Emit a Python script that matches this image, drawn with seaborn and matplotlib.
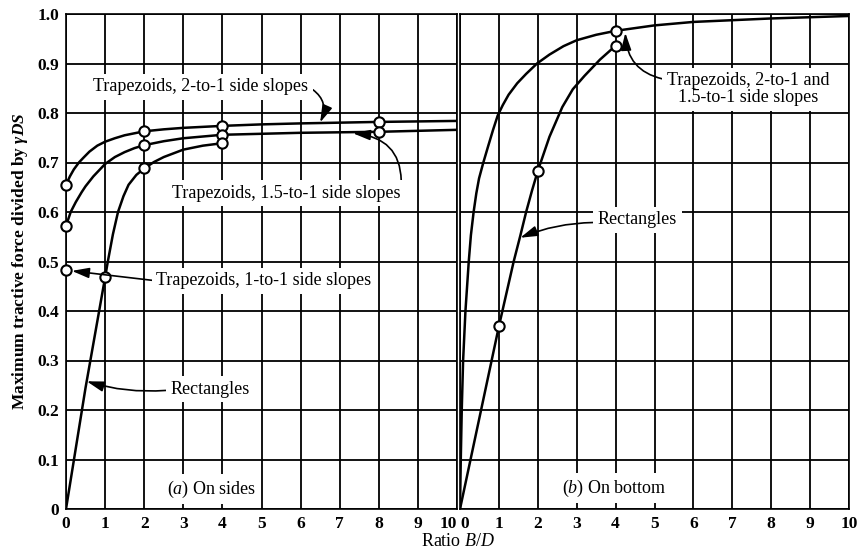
import matplotlib
matplotlib.use("Agg")
import matplotlib.pyplot as plt
import seaborn as sns

# ---- (a) On sides -------------------------------------------------------
sides_x_trap2 = [0, 0.1, 0.2, 0.33, 0.45, 0.6, 0.8, 1, 1.25, 1.5, 1.75, 2,
                 2.5, 3, 4, 5, 6, 8, 10]
sides_y_trap2 = [0.655, 0.672, 0.686, 0.700, 0.710, 0.722, 0.734, 0.742, 0.749,
                 0.755, 0.759, 0.763, 0.767, 0.770, 0.774, 0.777, 0.779, 0.782, 0.784]

sides_x_trap15 = [0, 0.12, 0.25, 0.4, 0.5, 0.7, 1, 1.25, 1.5, 1.75, 2, 2.5,
                  3, 4, 5, 6, 8, 10]
sides_y_trap15 = [0.572, 0.600, 0.620, 0.640, 0.652, 0.672, 0.697, 0.711, 0.721,
                  0.729, 0.735, 0.743, 0.749, 0.756, 0.758, 0.760, 0.762, 0.766]

sides_x_rect = [0, 0.5, 1, 1.07, 1.2, 1.33, 1.47, 1.6, 1.8, 2, 2.25, 2.5,
                3, 3.5, 4]
sides_y_rect = [0, 0.245, 0.468, 0.500, 0.555, 0.600, 0.632, 0.655, 0.675,
                0.688, 0.701, 0.711, 0.726, 0.734, 0.739]

sides_mark_x = [0, 2, 4, 8]
sides_mark_trap2 = [0.655, 0.763, 0.774, 0.782]
sides_mark_trap15 = [0.572, 0.735, 0.756, 0.762]
sides_mark_rect_x = [1, 2, 4]
sides_mark_rect_y = [0.468, 0.688, 0.739]
sides_mark_trap1_x = [0]
sides_mark_trap1_y = [0.482]

# ---- (b) On bottom ------------------------------------------------------
bottom_x_trap = [0, 0.01, 0.02, 0.045, 0.08, 0.14, 0.225, 0.28, 0.35, 0.42,
                 0.49, 0.6, 0.72, 0.85, 0.97, 1.1, 1.25, 1.47, 1.7, 1.98,
                 2.3, 2.66, 3, 3.5, 4, 5, 6, 8, 10]
bottom_y_trap = [0, 0.05, 0.1, 0.2, 0.3, 0.4, 0.5, 0.553, 0.6, 0.638,
                 0.668, 0.700, 0.732, 0.766, 0.795, 0.816, 0.837, 0.860, 0.879, 0.900,
                 0.918, 0.935, 0.947, 0.958, 0.966, 0.977, 0.984, 0.991, 0.996]

bottom_x_rect = [0, 1, 1.2, 1.38, 1.55, 1.7, 1.85, 2, 2.3, 2.63, 2.9, 3.2, 3.6, 4]
bottom_y_rect = [0, 0.369, 0.438, 0.500, 0.552, 0.600, 0.643, 0.683, 0.752,
                 0.812, 0.848, 0.875, 0.908, 0.936]

bottom_mark_trap_x = [4]
bottom_mark_trap_y = [0.966]
bottom_mark_rect_x = [1, 2, 4]
bottom_mark_rect_y = [0.369, 0.683, 0.936]

x_ticks = list(range(11))
y_ticks = [0, 0.1, 0.2, 0.3, 0.4, 0.5, 0.6, 0.7, 0.8, 0.9, 1.0]
y_tick_labels = ["0", "0.1", "0.2", "0.3", "0.4", "0.5", "0.6", "0.7", "0.8", "0.9", "1.0"]

# ---- style --------------------------------------------------------------
sns.set_theme(style="white")
plt.rcParams.update({
    "font.family": ["Liberation Serif", "DejaVu Serif"],
    "mathtext.fontset": "custom",
    "mathtext.rm": "Liberation Serif",
    "mathtext.it": "Liberation Serif:italic",
    "mathtext.bf": "Liberation Serif:bold",
    "mathtext.bfit": "Liberation Serif:italic:bold",
    "axes.edgecolor": "black",
    "text.color": "black",
    "xtick.color": "black",
    "ytick.color": "black",
})

LW = 1.8
TXT = 13
TICK = 12.5
arrow_style = "-|>,head_length=0.8,head_width=0.24"

fig = plt.figure(figsize=(8.64, 5.54), dpi=100)
ax_a = fig.add_axes([66 / 864, 45 / 554, 391 / 864, 495 / 554])
ax_b = fig.add_axes([460 / 864, 45 / 554, 389 / 864, 495 / 554])

for ax in (ax_a, ax_b):
    ax.set_xlim(0, 10)
    ax.set_ylim(0, 1)
    ax.set_xticks(x_ticks)
    ax.set_xticklabels([str(t) for t in x_ticks], fontsize=TICK, fontweight="bold")
    ax.set_yticks(y_ticks)
    ax.set_axisbelow(True)
    ax.grid(True, color="black", lw=1.3)
    ax.tick_params(length=0, pad=5)
    for sp in ax.spines.values():
        sp.set_color("black")
        sp.set_linewidth(1.2)
    ax.set_xlabel("")
    ax.set_ylabel("")

ax_a.set_yticklabels(y_tick_labels, fontsize=TICK, fontweight="bold")
ax_b.set_yticklabels([])
# the "10" of (a) and the "0" of (b) sit side by side at the seam
ax_a.get_xticklabels()[-1].set_horizontalalignment("right")
ax_b.get_xticklabels()[0].set_horizontalalignment("left")


def curve(ax, xs, ys):
    sns.lineplot(x=xs, y=ys, ax=ax, color="black", lw=LW, sort=False,
                 estimator=None, zorder=3)


def rings(ax, xs, ys):
    sns.scatterplot(x=xs, y=ys, ax=ax, s=55, marker="o", color="white",
                    edgecolor="black", linewidth=1.5, zorder=5, clip_on=False)


# (a) curves
curve(ax_a, sides_x_trap2, sides_y_trap2)
curve(ax_a, sides_x_trap15, sides_y_trap15)
curve(ax_a, sides_x_rect, sides_y_rect)
rings(ax_a, sides_mark_x, sides_mark_trap2)
rings(ax_a, sides_mark_x, sides_mark_trap15)
rings(ax_a, sides_mark_rect_x, sides_mark_rect_y)
rings(ax_a, sides_mark_trap1_x, sides_mark_trap1_y)

# (b) curves
curve(ax_b, bottom_x_trap, bottom_y_trap)
curve(ax_b, bottom_x_rect, bottom_y_rect)
rings(ax_b, bottom_mark_trap_x, bottom_mark_trap_y)
rings(ax_b, bottom_mark_rect_x, bottom_mark_rect_y)

box = dict(boxstyle="square,pad=0.25", fc="white", ec="none")


def label(ax, text, xy, xytext, rad=0.0, relpos=(0.5, 0.5), **kw):
    ax.annotate(text, xy=xy, xytext=xytext, ha="center", va="center",
                fontsize=TXT, bbox=box, zorder=6,
                arrowprops=dict(arrowstyle=arrow_style, color="black", lw=1.2,
                                connectionstyle=f"arc3,rad={rad}",
                                relpos=relpos, shrinkA=0, shrinkB=0),
                **kw)


label(ax_a, "Trapezoids, 2-to-1 side slopes", xy=(6.5, 0.781),
      xytext=(3.45, 0.853), rad=-0.45, relpos=(1, 0.5))
label(ax_a, "Trapezoids, 1.5-to-1 side slopes", xy=(7.34, 0.759),
      xytext=(5.64, 0.638), rad=0.5, relpos=(1, 0.6))
label(ax_a, "Trapezoids, 1-to-1 side slopes", xy=(0.15, 0.481),
      xytext=(5.06, 0.461), rad=0.0, relpos=(0, 0.5))
label(ax_a, "Rectangles", xy=(0.53, 0.258),
      xytext=(3.68, 0.242), rad=-0.1, relpos=(0, 0.45))
ax_a.text(3.73, 0.040, r"($\mathit{a}$) On sides", ha="center", va="center",
          fontsize=TXT, bbox=box, zorder=6)

label(ax_b, "Rectangles", xy=(1.55, 0.548),
      xytext=(4.56, 0.584), rad=0.1, relpos=(0, 0.35))
label(ax_b, "Trapezoids, 2-to-1 and\n1.5-to-1 side slopes", xy=(4.25, 0.962),
      xytext=(7.40, 0.848), rad=-0.4, relpos=(0, 0.78),
      multialignment="center", linespacing=1.0)
ax_b.text(3.97, 0.042, r"($\mathit{b}$) On bottom", ha="center", va="center",
          fontsize=TXT, bbox=box, zorder=6)

fig.text(20 / 864, 1 - 261.5 / 554,
         r"Maximum tractive force divided by $\mathbfit{\gamma DS}$",
         rotation=90, ha="center", va="center", fontsize=12.5, fontweight="bold")
fig.text(458 / 864, 1 - 542 / 554, r"Ratio $\mathit{B/D}$",
         ha="center", va="center", fontsize=TXT)

fig.savefig("out.png", dpi=100, facecolor="white")
